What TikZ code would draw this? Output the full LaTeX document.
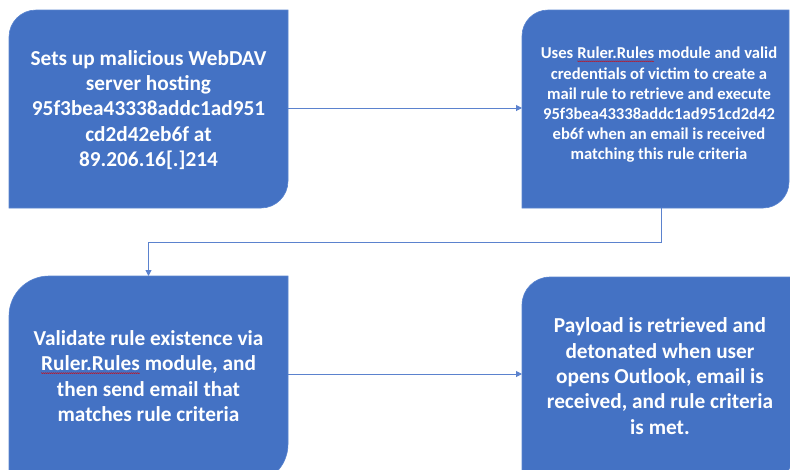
\documentclass[tikz,border=0pt]{standalone}
\usepackage{fontspec}
\setmainfont{Carlito}
\usetikzlibrary{arrows.meta,backgrounds,decorations.pathmorphing}
\definecolor{boxblue}{HTML}{4472C4}
\definecolor{boxedge}{HTML}{5A84CF}
\definecolor{connblue}{HTML}{5B82CE}
\newcommand{\spellerr}[1]{\tikz[baseline=(sq.base)]{\node[inner sep=0pt,outer sep=0pt,draw=none,fill=none,text=white] (sq) {#1};\draw[red!85!black,line width=0.4pt,decorate,decoration={snake,amplitude=0.4pt,segment length=2pt}] ([yshift=-2.2pt]sq.south west) -- ([yshift=-2.2pt]sq.south east);}}
\newcommand{\roundbox}[2]{% node name, radius
  \fill[boxblue,draw=boxedge,line width=0.6pt] (#1.south west) -- ([yshift=-#2]#1.north west) arc[start angle=180,end angle=90,radius=#2] -- (#1.north east) -- ([yshift=#2]#1.south east) arc[start angle=0,end angle=-90,radius=#2] -- cycle;}
\begin{document}
\begin{tikzpicture}[x=1pt,y=-1pt,
  boxtext/.style={draw=none,fill=none,inner sep=0pt,outer sep=0pt,text=white,align=center,font=\bfseries\fontsize{21.3}{25.3}\selectfont},
  smalltext/.style={boxtext,font=\bfseries\fontsize{16.6}{20.2}\selectfont},
  conn/.style={draw=connblue,line width=1pt,-{Triangle[length=6pt,width=6pt]}}]
\useasboundingbox (0,0) rectangle (790,469);
\node[boxtext,minimum width=279pt,minimum height=198pt] (n1) at (148.5,109) {};
\node[boxtext] at (148.5,110) {Sets up malicious WebDAV\\server hosting\\95f3bea43338addc1ad951\\cd2d42eb6f at\\89.206.16[.]214};
\node[smalltext,minimum width=267pt,minimum height=198pt] (n2) at (655.5,109) {};
\node[smalltext] at (659,105) {Uses \spellerr{Ruler.Rules} module and valid\\credentials of victim to create a\\mail rule to retrieve and execute\\95f3bea43338addc1ad951cd2d42\\eb6f when an email is received\\matching this rule criteria};
\node[boxtext,minimum width=279pt,minimum height=208pt] (n3) at (148.5,380) {};
\node[boxtext] at (148.5,376) {Validate rule existence via\\\spellerr{Ruler.Rules} module, and\\then send email that\\matches rule criteria};
\node[boxtext,minimum width=270pt,minimum height=208pt] (n4) at (657,381) {};
\node[boxtext] at (660,376) {Payload is retrieved and\\detonated when user\\opens Outlook, email is\\received, and rule criteria\\is met.};
\begin{pgfonlayer}{background}
\roundbox{n1}{27pt}
\roundbox{n2}{26pt}
\roundbox{n3}{40pt}
\roundbox{n4}{28pt}
\end{pgfonlayer}
\draw[conn] ([yshift=1pt]n1.east) -- ([yshift=1pt]n2.west);
\draw[conn] ([xshift=5.5pt]n2.south) -- ++(0,34) -| (n3.north);
\draw[conn] ([yshift=6pt]n3.east) -- ([yshift=6pt]n3.east -| n4.west);
\end{tikzpicture}
\end{document}
